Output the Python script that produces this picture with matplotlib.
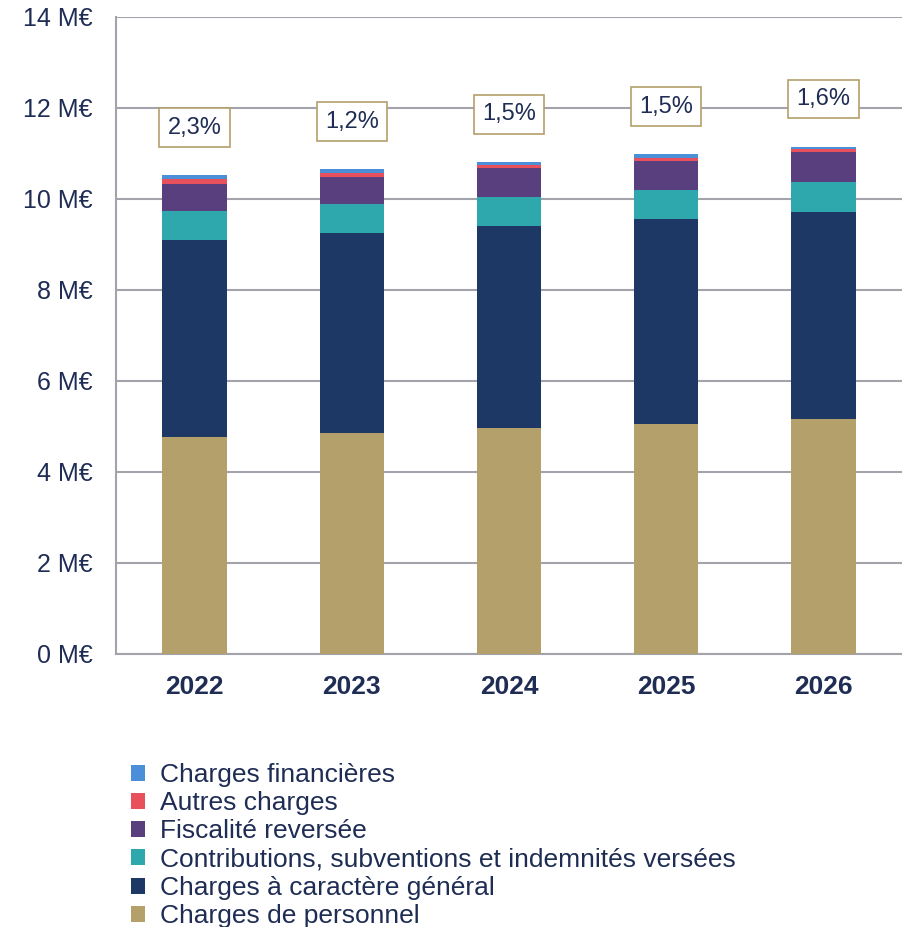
import matplotlib.pyplot as plt
import numpy as np

plt.rcParams['font.family'] = ['Liberation Sans', 'DejaVu Sans']

# Data (M€)
years = ['2022', '2023', '2024', '2025', '2026']
personnel = [4.77, 4.86, 4.97, 5.05, 5.16]
general = [4.33, 4.40, 4.44, 4.51, 4.56]
contributions = [0.64, 0.63, 0.63, 0.64, 0.65]
fiscalite = [0.60, 0.60, 0.63, 0.64, 0.66]
autres = [0.09, 0.07, 0.07, 0.07, 0.06]
financieres = [0.09, 0.09, 0.07, 0.07, 0.06]
growth = ['2,3%', '1,2%', '1,5%', '1,5%', '1,6%']

series = [
    ('Charges de personnel', personnel, '#b3a06b'),
    ('Charges à caractère général', general, '#1d3864'),
    ('Contributions, subventions et indemnités versées', contributions, '#2fa8ad'),
    ('Fiscalité reversée', fiscalite, '#5a3f7e'),
    ('Autres charges', autres, '#e8505b'),
    ('Charges financières', financieres, '#4a8fd8'),
]

text_col = '#1f2d55'
grid_col = '#a3a3ab'

fig = plt.figure(figsize=(9.02, 9.27), dpi=100)
ax = fig.add_axes([0.1286, 0.2945, 0.8714, 0.6872])

x = np.arange(len(years))
bottom = np.zeros(len(years))
for name, vals, col in series:
    ax.bar(x, vals, 0.41, bottom=bottom, color=col, label=name, zorder=3)
    bottom += np.array(vals)

for xi, tot, lab in zip(x, bottom, growth):
    ax.text(xi, tot + 1.05, lab, ha='center', va='center', fontsize=17, color=text_col,
            bbox=dict(boxstyle='square,pad=0.35', fc='white', ec='#b3a06b', lw=1.2), zorder=4)

ax.set_xlim(-0.5, len(years) - 0.5)
ax.set_ylim(0, 14)
ax.set_yticks(range(0, 15, 2))
ax.set_yticklabels([f'{v} M€' for v in range(0, 15, 2)])
ax.set_xticks(x)
ax.set_xticklabels(years, fontweight='bold')
ax.tick_params(axis='y', length=0, pad=17, labelsize=18, labelcolor=text_col)
ax.tick_params(axis='x', length=0, pad=15, labelsize=19, labelcolor=text_col)
ax.grid(axis='y', color=grid_col, lw=1.5, zorder=0)
ax.set_axisbelow(True)
for s in ['top', 'right']:
    ax.spines[s].set_visible(False)
for s in ['left', 'bottom']:
    ax.spines[s].set_color(grid_col)
    ax.spines[s].set_linewidth(1.5)

handles, labels = ax.get_legend_handles_labels()
leg = fig.legend(handles[::-1], labels[::-1], loc='upper left',
                 bbox_to_anchor=(0.145, 1 - 763 / 927), frameon=False,
                 fontsize=19, handlelength=0.55, handleheight=0.55, handletextpad=0.55,
                 labelspacing=0.16, borderpad=0, borderaxespad=0)
for t in leg.get_texts():
    t.set_color(text_col)

plt.savefig('out.png', dpi=100)
